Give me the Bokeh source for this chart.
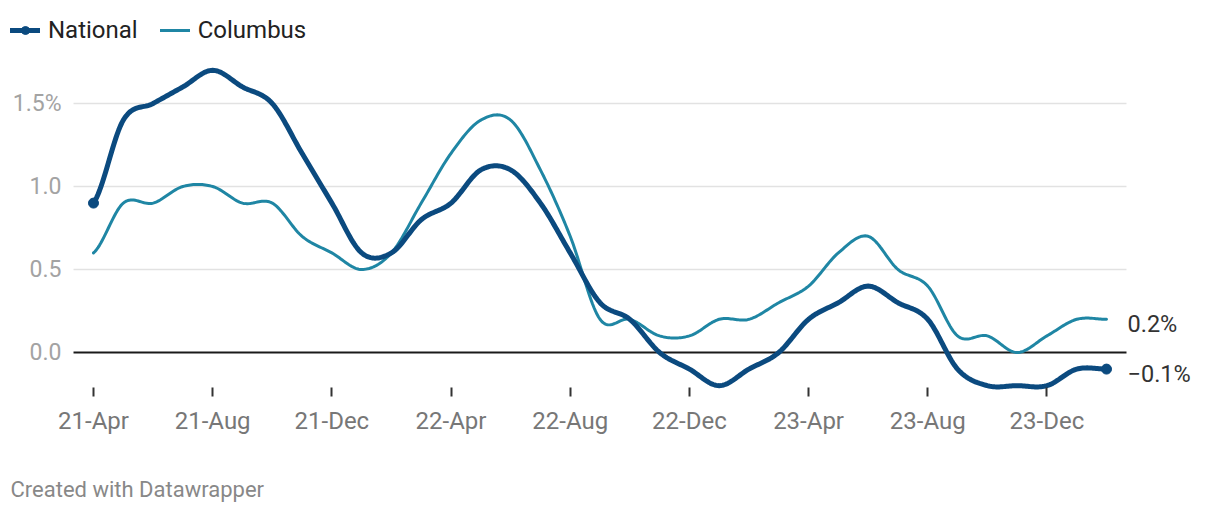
import numpy as np
from bokeh.plotting import figure
from bokeh.models import Range1d, Legend, LegendItem, Label
from bokeh.embed import file_html
from bokeh.resources import INLINE

# ---- data -------------------------------------------------------------
months = ["21-Apr", "21-May", "21-Jun", "21-Jul", "21-Aug", "21-Sep", "21-Oct", "21-Nov", "21-Dec",
          "22-Jan", "22-Feb", "22-Mar", "22-Apr", "22-May", "22-Jun", "22-Jul", "22-Aug", "22-Sep",
          "22-Oct", "22-Nov", "22-Dec",
          "23-Jan", "23-Feb", "23-Mar", "23-Apr", "23-May", "23-Jun", "23-Jul", "23-Aug", "23-Sep",
          "23-Oct", "23-Nov", "23-Dec",
          "24-Jan", "24-Feb"]
national = [0.9, 1.4, 1.5, 1.6, 1.7, 1.6, 1.5, 1.2, 0.9, 0.6,
            0.6, 0.8, 0.9, 1.1, 1.1, 0.9, 0.6, 0.3, 0.2, 0.0,
            -0.1, -0.2, -0.1, 0.0, 0.2, 0.3, 0.4, 0.3, 0.2, -0.1,
            -0.2, -0.2, -0.2, -0.1, -0.1]
columbus = [0.6, 0.9, 0.9, 1.0, 1.0, 0.9, 0.9, 0.7, 0.6, 0.5,
            0.6, 0.9, 1.2, 1.4, 1.4, 1.1, 0.7, 0.2, 0.2, 0.1,
            0.1, 0.2, 0.2, 0.3, 0.4, 0.6, 0.7, 0.5, 0.4, 0.1,
            0.1, 0.0, 0.1, 0.2, 0.2]
x_tick_labels = ["21-Apr", "21-Aug", "21-Dec", "22-Apr", "22-Aug", "22-Dec", "23-Apr", "23-Aug", "23-Dec"]
y_ticks = [0.0, 0.5, 1.0, 1.5]
y_tick_labels = ["0.0", "0.5", "1.0", "1.5%"]

NAT_COLOR = "#0b4a7f"
COL_COLOR = "#1f86a4"
FONT = "Roboto"

# ---- layout (the frame fills the whole figure) --------------------------
W, H = 1204, 504
X_RANGE = (-3.1214, 37.289)
Y_RANGE = (-0.9157, 2.1205)
PAD = 0.671          # grid extends this far (months) beyond first / last point
Y_AXIS_POS = -0.2108 # value where the month axis sits

x = np.arange(len(months), dtype=float)


def smooth(xs, ys, n=20):
    """Catmull-Rom curve through the data points (drawing only)."""
    xs = np.asarray(xs, float)
    ys = np.asarray(ys, float)
    px = np.concatenate([[2 * xs[0] - xs[1]], xs, [2 * xs[-1] - xs[-2]]])
    py = np.concatenate([[ys[0]], ys, [ys[-1]]])
    ox, oy = [], []
    t = np.linspace(0, 1, n, endpoint=False)
    for i in range(1, len(px) - 2):
        for P, out in ((px, ox), (py, oy)):
            p0, p1, p2, p3 = P[i - 1], P[i], P[i + 1], P[i + 2]
            out.extend(0.5 * ((2 * p1) + (-p0 + p2) * t + (2 * p0 - 5 * p1 + 4 * p2 - p3) * t ** 2
                              + (-p0 + 3 * p1 - 3 * p2 + p3) * t ** 3))
    ox.append(xs[-1])
    oy.append(ys[-1])
    return ox, oy


p = figure(width=W, height=H, output_backend="svg", toolbar_location=None,
           x_range=Range1d(*X_RANGE), y_range=Range1d(*Y_RANGE),
           min_border=0)
p.outline_line_color = None
p.background_fill_color = "white"
p.border_fill_color = "white"

# grid + zero line (limited to the data span)
p.xgrid.visible = False
p.ygrid.visible = False
x0 = x[0] - PAD
x1 = x[-1] + PAD
p.segment(x0=[x0] * 3, x1=[x1] * 3, y0=y_ticks[1:], y1=y_ticks[1:],
          line_color="#e2e2e2", line_width=1.5)
p.segment(x0=[x0], x1=[x1], y0=[0.0], y1=[0.0], line_color="#1a1a1a", line_width=2)

# axes (fixed inside the frame)
tick_pos = [months.index(t) for t in x_tick_labels]
p.xaxis.fixed_location = Y_AXIS_POS
p.xaxis.ticker = tick_pos
p.xaxis.major_label_overrides = {pos: lab for pos, lab in zip(tick_pos, x_tick_labels)}
p.xaxis.axis_line_color = None
p.xaxis.minor_tick_line_color = None
p.xaxis.major_tick_in = 0
p.xaxis.major_tick_out = 9
p.xaxis.major_tick_line_color = "#333333"
p.xaxis.major_tick_line_width = 2
p.xaxis.major_label_standoff = 11
p.xaxis.major_label_text_font = FONT
p.xaxis.major_label_text_font_size = "24px"
p.xaxis.major_label_text_color = "#777777"

p.yaxis.fixed_location = x0
p.yaxis.ticker = y_ticks
p.yaxis.major_label_overrides = {v: s for v, s in zip(y_ticks, y_tick_labels)}
p.yaxis.axis_line_color = None
p.yaxis.major_tick_line_color = None
p.yaxis.minor_tick_line_color = None
p.yaxis.major_label_standoff = 6
p.yaxis.major_label_text_font = FONT
p.yaxis.major_label_text_font_size = "23px"
p.yaxis.major_label_text_color = "#a3a3a3"

# lines
cx, cy = smooth(x, columbus)
col_line = p.line(cx, cy, line_color=COL_COLOR, line_width=3, line_cap="round", line_join="round")
nx, ny = smooth(x, national)
nat_line = p.line(nx, ny, line_color=NAT_COLOR, line_width=5, line_cap="round", line_join="round")
nat_dots = p.scatter([x[0], x[-1]], [national[0], national[-1]], size=10,
                     fill_color=NAT_COLOR, line_color=NAT_COLOR)

# end labels
for val in (columbus[-1], national[-1]):
    txt = f"{val:.1f}%".replace("-", "\u2212")
    p.add_layout(Label(x=x[-1], y=val, text=txt, x_offset=21, y_offset=-5,
                       text_baseline="middle", text_align="left",
                       text_font=FONT, text_font_size="23.5px", text_color="#333333"))

# legend
legend = Legend(items=[LegendItem(label="National", renderers=[nat_line, nat_dots]),
                       LegendItem(label="Columbus", renderers=[col_line])],
                orientation="horizontal", location=(10, 460),
                glyph_width=30, glyph_height=20, label_height=24, label_standoff=8, spacing=22,
                padding=0, margin=0, border_line_color=None, background_fill_alpha=0,
                label_text_font=FONT, label_text_font_size="24px", label_text_color="#222222")
p.add_layout(legend)

# caption
p.add_layout(Label(x=10, y=15, x_units="screen", y_units="screen", text="Created with Datawrapper",
                   text_baseline="middle", text_font=FONT, text_font_size="22px", text_color="#888888"))

open("out.html", "w").write(file_html(p, INLINE))
